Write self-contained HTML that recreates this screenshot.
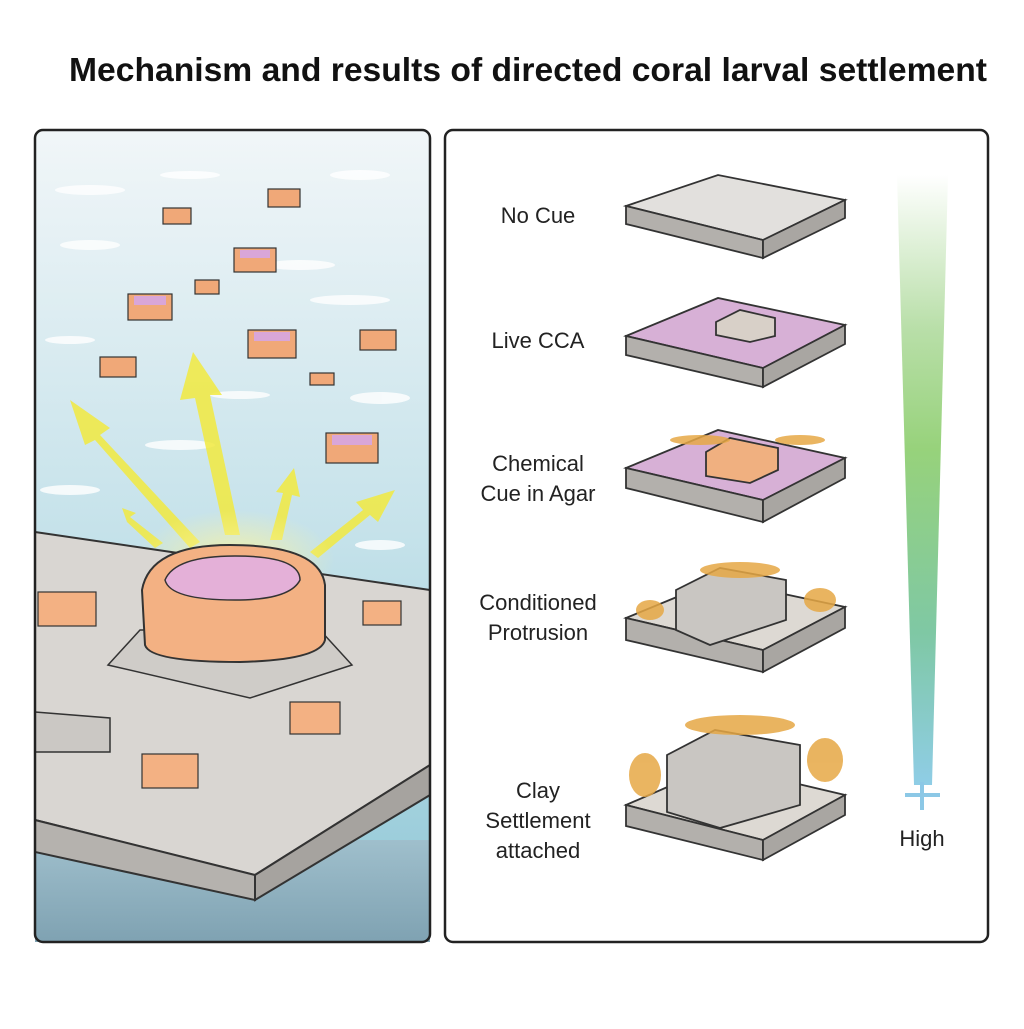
<!DOCTYPE html>
<html><head><style>
body{margin:0;width:1024px;height:1024px;background:#fff;overflow:hidden;font-family:"Liberation Sans",sans-serif}
</style></head><body>
<svg width="1024" height="1024" viewBox="0 0 1024 1024" xmlns="http://www.w3.org/2000/svg" font-family="Liberation Sans, sans-serif">
<defs>
<linearGradient id="water" x1="0" y1="0" x2="0" y2="1">
<stop offset="0" stop-color="#f1f6f8"/><stop offset="0.5" stop-color="#c5e2ea"/><stop offset="1" stop-color="#8fc7d6"/></linearGradient>
<linearGradient id="deep" x1="0" y1="0" x2="0" y2="1">
<stop offset="0" stop-color="#9fbfcc"/><stop offset="1" stop-color="#7fa2b2"/></linearGradient>
<linearGradient id="bar" x1="0" y1="0" x2="0" y2="1">
<stop offset="0" stop-color="#ffffff"/><stop offset="0.25" stop-color="#b9dfa9"/><stop offset="0.45" stop-color="#97d27b"/><stop offset="0.75" stop-color="#7fc8a4"/><stop offset="1" stop-color="#8fcde6"/></linearGradient>
<radialGradient id="glow" cx="0.5" cy="0.5" r="0.5"><stop offset="0" stop-color="#fff59a" stop-opacity="0.8"/><stop offset="1" stop-color="#fff59a" stop-opacity="0"/></radialGradient>
</defs>
<text x="528" y="81" text-anchor="middle" font-size="33" font-weight="bold" fill="#111" textLength="918" lengthAdjust="spacingAndGlyphs">Mechanism and results of directed coral larval settlement</text>

<!-- left panel -->
<rect x="35" y="130" width="395" height="812" rx="8" fill="url(#water)"/>
<rect x="35" y="840" width="395" height="102" fill="url(#deep)"/>
<g fill="#fff" opacity="0.8">
<ellipse cx="90" cy="190" rx="35" ry="5"/><ellipse cx="190" cy="175" rx="30" ry="4"/><ellipse cx="360" cy="175" rx="30" ry="5"/>
<ellipse cx="90" cy="245" rx="30" ry="5"/><ellipse cx="300" cy="265" rx="35" ry="5"/><ellipse cx="350" cy="300" rx="40" ry="5"/>
<ellipse cx="70" cy="340" rx="25" ry="4"/><ellipse cx="240" cy="395" rx="30" ry="4"/><ellipse cx="380" cy="398" rx="30" ry="6"/>
<ellipse cx="180" cy="445" rx="35" ry="5"/><ellipse cx="70" cy="490" rx="30" ry="5"/><ellipse cx="380" cy="545" rx="25" ry="5"/></g>
<g stroke="#333" stroke-width="1.2">
<g fill="#f0a878"><rect x="163" y="208" width="28" height="16"/><rect x="268" y="189" width="32" height="18"/><rect x="234" y="248" width="42" height="24"/><rect x="128" y="294" width="44" height="26"/><rect x="195" y="280" width="24" height="14"/><rect x="248" y="330" width="48" height="28"/><rect x="360" y="330" width="36" height="20"/><rect x="100" y="357" width="36" height="20"/><rect x="310" y="373" width="24" height="12"/><rect x="326" y="433" width="52" height="30"/></g>
<g fill="#d9a6d8" stroke="none"><rect x="240" y="250" width="30" height="8"/><rect x="134" y="296" width="32" height="9"/><rect x="254" y="332" width="36" height="9"/><rect x="332" y="435" width="40" height="10"/></g>
</g>
<g fill="#f2ea40" opacity="0.85">
<polygon points="225,535 240,535 210,395 222,395 193,352 180,400 195,398"/>
<polygon points="190,548 200,542 100,435 110,428 70,400 85,445 95,440"/>
<polygon points="270,540 282,540 292,495 300,497 294,468 276,492 283,493"/>
<polygon points="310,552 318,558 370,515 378,522 395,490 356,502 363,510"/>
<polygon points="155,548 163,543 130,517 136,513 122,508 127,522"/>
</g>
<ellipse cx="235" cy="560" rx="100" ry="50" fill="url(#glow)"/>
<polygon points="35,532 430,590 430,765 255,875 35,820" fill="#d9d6d2" stroke="#333" stroke-width="2"/>
<polygon points="35,820 255,875 255,900 35,852" fill="#b5b2ae" stroke="#333" stroke-width="2"/>
<polygon points="255,875 430,765 430,795 255,900" fill="#a6a39f" stroke="#333" stroke-width="2"/>
<polygon points="35,712 110,718 110,752 35,752" fill="#cbc8c4" stroke="#333" stroke-width="1.5"/>
<polygon points="108,665 140,630 320,630 352,665 250,698" fill="#cfccc8" stroke="#333" stroke-width="1.5"/>
<path d="M142,590 Q150,545 230,545 Q320,545 325,585 L325,640 Q320,660 240,662 Q150,662 145,645 Z" fill="#f3b183" stroke="#333" stroke-width="2"/>
<path d="M165,580 Q175,556 235,556 Q300,556 300,580 Q290,600 235,600 Q170,600 165,580Z" fill="#e4b0d8" stroke="#333" stroke-width="1.5"/>
<g fill="#f3b183" stroke="#333" stroke-width="1.2">
<rect x="38" y="592" width="58" height="34"/><rect x="363" y="601" width="38" height="24"/><rect x="290" y="702" width="50" height="32"/><rect x="142" y="754" width="56" height="34"/></g>
<rect x="35" y="130" width="395" height="812" rx="8" fill="none" stroke="#222" stroke-width="2.5"/>

<rect x="445" y="130" width="543" height="812" rx="8" fill="#fff" stroke="#222" stroke-width="2.5"/>
<g font-size="22" fill="#222" text-anchor="middle">
<text x="538" y="223">No Cue</text>
<text x="538" y="348">Live CCA</text>
<text x="538" y="471">Chemical</text><text x="538" y="501">Cue in Agar</text>
<text x="538" y="610">Conditioned</text><text x="538" y="640">Protrusion</text>
<text x="538" y="798">Clay</text><text x="538" y="828">Settlement</text><text x="538" y="858">attached</text>
<text x="922" y="846">High</text>
</g>
<polygon points="897,175 948,175 932,785 914,785" fill="url(#bar)"/>
<path d="M922,782 V810 M905,795 H940" stroke="#8cc8e6" stroke-width="4"/>

<g stroke="#333" stroke-width="1.8">
<polygon points="626,206 718,175 845,200 763,240" fill="#e2e0dd"/>
<polygon points="626,206 763,240 763,258 626,224" fill="#b3b0ac"/>
<polygon points="763,240 845,200 845,218 763,258" fill="#a9a6a2"/>
<polygon points="626,336 718,298 845,325 763,368" fill="#d7b0d6"/>
<polygon points="626,336 763,368 763,387 626,355" fill="#b3b0ac"/>
<polygon points="763,368 845,325 845,344 763,387" fill="#a9a6a2"/>
<polygon points="716,322 740,310 775,318 775,336 750,342 716,335" fill="#d8d0c8"/>
<polygon points="626,468 718,430 845,458 763,500" fill="#d7b0d6"/>
<polygon points="626,468 763,500 763,522 626,488" fill="#b3b0ac"/>
<polygon points="763,500 845,458 845,478 763,522" fill="#a9a6a2"/>
<polygon points="706,452 730,438 778,448 778,470 750,483 706,476" fill="#f0b080"/>
<polygon points="626,618 718,580 845,607 763,650" fill="#ddd9d3"/>
<polygon points="626,618 763,650 763,672 626,640" fill="#b3b0ac"/>
<polygon points="763,650 845,607 845,628 763,672" fill="#a9a6a2"/>
<polygon points="676,590 720,568 786,580 786,620 710,645 676,630" fill="#c9c6c2"/>
<polygon points="626,805 718,765 845,795 763,840" fill="#ddd9d3"/>
<polygon points="626,805 763,840 763,860 626,826" fill="#b3b0ac"/>
<polygon points="763,840 845,795 845,815 763,860" fill="#a9a6a2"/>
<polygon points="667,755 715,730 800,745 800,805 720,828 667,812" fill="#c9c6c2"/>
</g>
<g fill="#e6a845" opacity="0.85">
<ellipse cx="650" cy="610" rx="14" ry="10"/><ellipse cx="820" cy="600" rx="16" ry="12"/><ellipse cx="740" cy="570" rx="40" ry="8"/>
<ellipse cx="645" cy="775" rx="16" ry="22"/><ellipse cx="825" cy="760" rx="18" ry="22"/><ellipse cx="740" cy="725" rx="55" ry="10"/>
<ellipse cx="700" cy="440" rx="30" ry="5"/><ellipse cx="800" cy="440" rx="25" ry="5"/>
</g>
</svg>
</body></html>
